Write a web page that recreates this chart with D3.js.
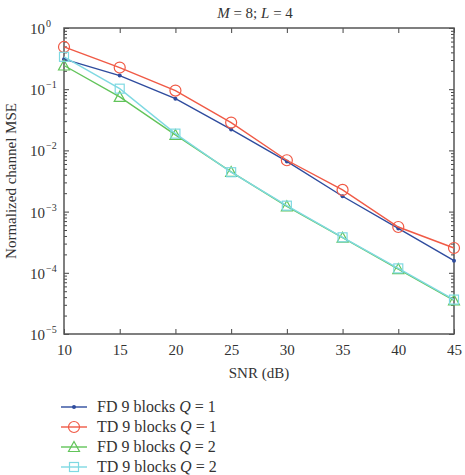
<!DOCTYPE html>
<html>
<head>
<meta charset="utf-8">
<script src="https://cdn.jsdelivr.net/npm/d3@7"></script>
<style>
  body { margin: 0; background: #fff; }
</style>
</head>
<body>
<script>
//Width and height
var w = 465;
var h = 475;
var margin = {left: 64, right: 11, top: 28, bottom: 141};
var serif = "'Liberation Serif', 'Times New Roman', Times, 'DejaVu Serif', serif";

//Data
var snr = [10, 15, 20, 25, 30, 35, 40, 45];
var fdQ1 = [0.31, 0.167, 0.070, 0.022, 0.0066, 0.00178, 0.00053, 0.000158];
var tdQ1 = [0.49, 0.226, 0.095, 0.0285, 0.0069, 0.00226, 0.00056, 0.000254];
var fdQ2 = [0.244, 0.075, 0.0179, 0.00445, 0.00122, 0.000375, 0.000115, 0.0000354];
var tdQ2 = [0.338, 0.102, 0.0188, 0.0044, 0.00125, 0.00038, 0.000118, 0.0000365];
var xTicks = [10, 15, 20, 25, 30, 35, 40, 45];
var yExps = [0, -1, -2, -3, -4, -5];

var series = [
  {name: "FD 9 blocks ", q: "1", values: fdQ1, color: "#2f4c9e", marker: "dot"},
  {name: "TD 9 blocks ", q: "1", values: tdQ1, color: "#f05a46", marker: "circle"},
  {name: "FD 9 blocks ", q: "2", values: fdQ2, color: "#62c45a", marker: "triangle"},
  {name: "TD 9 blocks ", q: "2", values: tdQ2, color: "#7fd9e2", marker: "square"}
];

var x0 = margin.left, x1 = w - margin.right;
var y0 = h - margin.bottom, y1 = margin.top;

//Scales
var xScale = d3.scaleLinear().domain([10, 45]).range([x0, x1]);
var yScale = d3.scaleLog().domain([1e-5, 1]).range([y0, y1]);

var svg = d3.select("body").append("svg")
  .attr("width", w)
  .attr("height", h)
  .style("font-family", serif);

//Minor log ticks
var minor = [];
for (var e = -5; e < 0; e++) {
  for (var m = 2; m <= 9; m++) minor.push(m * Math.pow(10, e));
}
var majorY = yExps.map(function(k) { return Math.pow(10, k); });

function styleAxis(g) {
  g.attr("font-family", null);
  g.select(".domain").remove();
  g.selectAll("line").attr("stroke", "#444").attr("stroke-width", 1);
}

//X axes (bottom with labels, top ticks only)
svg.append("g")
  .attr("transform", "translate(0," + y0 + ")")
  .call(d3.axisBottom(xScale).tickValues(xTicks).tickSizeInner(-5).tickSizeOuter(0).tickPadding(10))
  .call(styleAxis)
  .selectAll("text")
  .attr("font-size", "15px")
  .style("font-family", serif)
  .attr("fill", "#333");

svg.append("g")
  .attr("transform", "translate(0," + y1 + ")")
  .call(d3.axisTop(xScale).tickValues(xTicks).tickSizeInner(-5).tickSizeOuter(0).tickFormat(""))
  .call(styleAxis);

//Y axes major + minor
svg.append("g")
  .attr("transform", "translate(" + x0 + ",0)")
  .call(d3.axisLeft(yScale).tickValues(majorY).tickSizeInner(-5).tickSizeOuter(0).tickFormat(""))
  .call(styleAxis);
svg.append("g")
  .attr("transform", "translate(" + x0 + ",0)")
  .call(d3.axisLeft(yScale).tickValues(minor).tickSizeInner(-3).tickSizeOuter(0).tickFormat(""))
  .call(styleAxis);
svg.append("g")
  .attr("transform", "translate(" + x1 + ",0)")
  .call(d3.axisRight(yScale).tickValues(majorY).tickSizeInner(-5).tickSizeOuter(0).tickFormat(""))
  .call(styleAxis);
svg.append("g")
  .attr("transform", "translate(" + x1 + ",0)")
  .call(d3.axisRight(yScale).tickValues(minor).tickSizeInner(-3).tickSizeOuter(0).tickFormat(""))
  .call(styleAxis);

//Y tick labels with superscripts
var yLab = svg.append("g").selectAll("text")
  .data(yExps)
  .enter()
  .append("text")
  .attr("x", x0 - 19)
  .attr("y", function(d) { return yScale(Math.pow(10, d)) + 6; })
  .attr("text-anchor", "end")
  .attr("font-size", "15px")
  .attr("fill", "#333")
  .text("10");
yLab.each(function(d) {
  d3.select(this.parentNode).append("text")
    .attr("x", x0 - 18)
    .attr("y", yScale(Math.pow(10, d)) - 1)
    .attr("font-size", "10px")
    .attr("fill", "#333")
    .text(d === 0 ? "0" : "\u2212" + Math.abs(d));
});

//Frame
svg.append("rect")
  .attr("x", x0).attr("y", y1)
  .attr("width", x1 - x0).attr("height", y0 - y1)
  .attr("fill", "none")
  .attr("stroke", "#555")
  .attr("stroke-width", 1.5);

//Lines
var line = d3.line()
  .x(function(d, i) { return xScale(snr[i]); })
  .y(function(d) { return yScale(d); });

function drawMarker(g, type, color, cx, cy) {
  if (type === "dot") {
    g.append("circle").attr("cx", cx).attr("cy", cy).attr("r", 2).attr("fill", color);
  } else if (type === "circle") {
    g.append("circle").attr("cx", cx).attr("cy", cy).attr("r", 5.5)
      .attr("fill", "none").attr("stroke", color).attr("stroke-width", 1.2);
  } else if (type === "triangle") {
    g.append("path")
      .attr("d", "M" + cx + "," + (cy - 5.5) + "L" + (cx + 5.5) + "," + (cy + 4.5) + "L" + (cx - 5.5) + "," + (cy + 4.5) + "Z")
      .attr("fill", "none").attr("stroke", color).attr("stroke-width", 1.2);
  } else if (type === "square") {
    g.append("rect").attr("x", cx - 4.5).attr("y", cy - 4.5).attr("width", 9).attr("height", 9)
      .attr("fill", "none").attr("stroke", color).attr("stroke-width", 1.2);
  }
}

series.forEach(function(s) {
  var g = svg.append("g");
  g.append("path")
    .datum(s.values)
    .attr("d", line)
    .attr("fill", "none")
    .attr("stroke", s.color)
    .attr("stroke-width", 1.4);
  s.values.forEach(function(v, i) {
    drawMarker(g, s.marker, s.color, xScale(snr[i]), yScale(v));
  });
});

//Title
var title = svg.append("text")
  .attr("x", 255)
  .attr("y", 18)
  .attr("text-anchor", "middle")
  .attr("font-size", "15px")
  .attr("fill", "#333");
title.append("tspan").attr("font-style", "italic").text("M");
title.append("tspan").text(" = 8; ");
title.append("tspan").attr("font-style", "italic").text("L");
title.append("tspan").text(" = 4");

//Axis labels
svg.append("text")
  .attr("x", (x0 + x1) / 2)
  .attr("y", 378)
  .attr("text-anchor", "middle")
  .attr("font-size", "15px")
  .attr("fill", "#333")
  .text("SNR (dB)");

svg.append("text")
  .attr("transform", "translate(16," + ((y0 + y1) / 2) + ") rotate(-90)")
  .attr("text-anchor", "middle")
  .attr("font-size", "15px")
  .attr("fill", "#333")
  .text("Normalized channel MSE");

//Legend
var legend = svg.append("g");
series.forEach(function(s, i) {
  var ly = 407 + i * 20;
  legend.append("line")
    .attr("x1", 61).attr("x2", 87)
    .attr("y1", ly).attr("y2", ly)
    .attr("stroke", s.color).attr("stroke-width", 1.4);
  drawMarker(legend, s.marker, s.color, 74, ly);
  var t = legend.append("text")
    .attr("x", 97)
    .attr("y", ly + 5)
    .attr("font-size", "16px")
    .attr("fill", "#333");
  t.append("tspan").text(s.name);
  t.append("tspan").attr("font-style", "italic").text("Q");
  t.append("tspan").text(" = " + s.q);
});
</script>
</body>
</html>
